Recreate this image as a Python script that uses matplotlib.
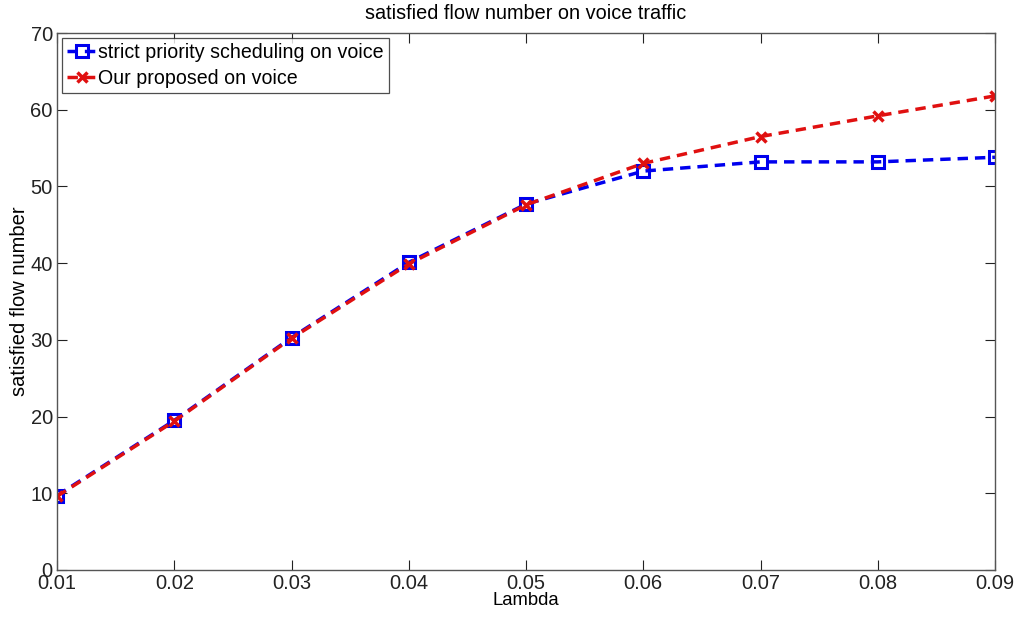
import matplotlib
matplotlib.use("Agg")
import matplotlib.pyplot as plt

lam = [0.01, 0.02, 0.03, 0.04, 0.05, 0.06, 0.07, 0.08, 0.09]
strict_voice = [9.7, 19.5, 30.3, 40.1, 47.7, 52.0, 53.2, 53.2, 53.8]
proposed_voice = [9.6, 19.4, 30.2, 39.9, 47.6, 53.0, 56.5, 59.2, 61.8]
yticks = [0, 10, 20, 30, 40, 50, 60, 70]
xticks = [0.01, 0.02, 0.03, 0.04, 0.05, 0.06, 0.07, 0.08, 0.09]
xticklabels = ["0.01", "0.02", "0.03", "0.04", "0.05", "0.06", "0.07", "0.08", "0.09"]

plt.rcParams['font.family'] = ['Liberation Sans', 'DejaVu Sans']

fig = plt.figure(figsize=(10.24, 6.18), dpi=100)
ax = fig.add_axes([0.0557, 0.0777, 0.9160, 0.8689])

ax.plot(lam, strict_voice, color='#0000ee', linestyle='--', linewidth=2.5,
        marker='s', markersize=9, markerfacecolor='none', markeredgewidth=2.2,
        dashes=(3, 2), label='strict priority scheduling on voice')
ax.plot(lam, proposed_voice, color='#e01010', linestyle='--', linewidth=2.5,
        marker='x', markersize=7, markeredgewidth=2.5,
        dashes=(3, 2), label='Our proposed on voice')

ax.set_xlim(0.01, 0.09)
ax.set_ylim(0, 70)
ax.set_xticks(xticks)
ax.set_xticklabels(xticklabels)
ax.set_yticks(yticks)
ax.tick_params(direction='in', top=True, right=True, length=7, width=0.8,
               labelsize=14.5, colors='#222222', pad=3)
for s in ax.spines.values():
    s.set_color('#555555')
    s.set_linewidth(1.0)

ax.set_xlabel('Lambda', fontsize=13.3, labelpad=-1)
ax.set_ylabel('satisfied flow number', fontsize=14.5, labelpad=1)
ax.set_title('satisfied flow number on voice traffic', fontsize=14.3, pad=10)

leg = ax.legend(loc='upper left', fontsize=14.1, frameon=True, fancybox=False,
                edgecolor='#222222', handlelength=1.5, handletextpad=0.1,
                borderpad=0.25, labelspacing=0.35, borderaxespad=0.25)
leg.get_frame().set_linewidth(0.9)

fig.savefig('out.png', dpi=100)
